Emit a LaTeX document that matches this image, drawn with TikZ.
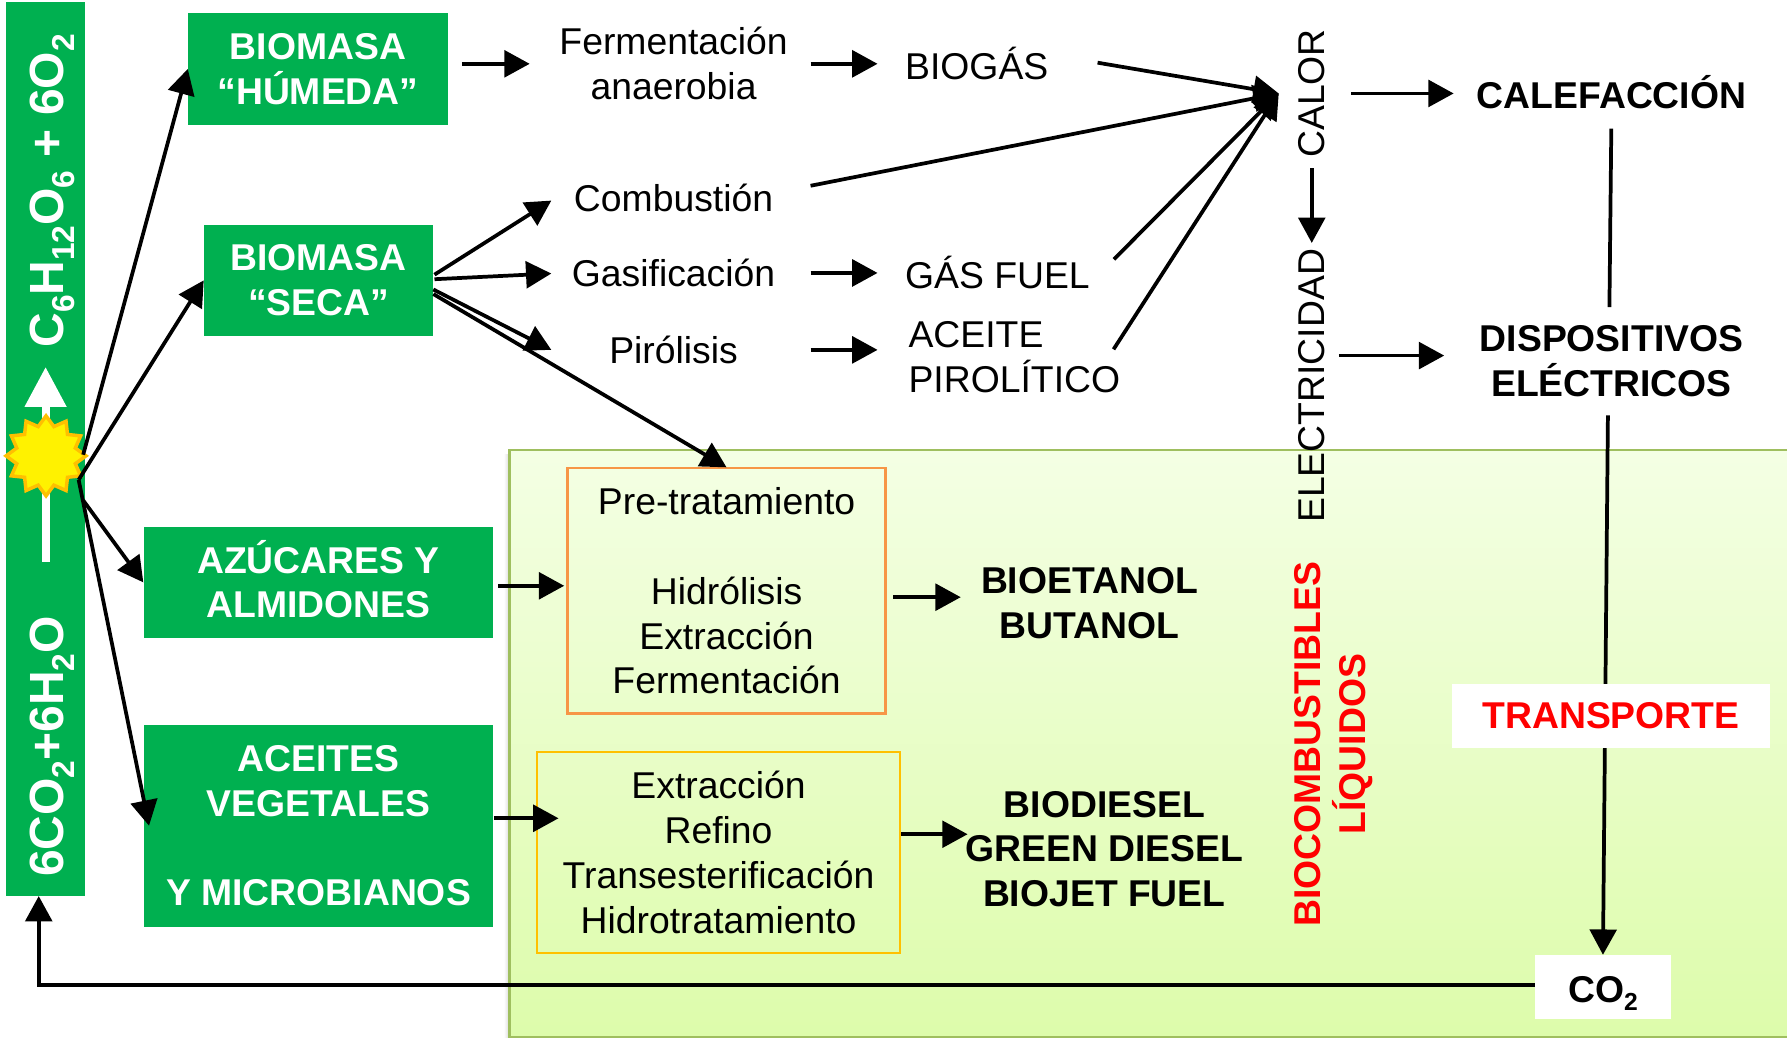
\documentclass[tikz,border=0pt]{standalone}
\usepackage{fontspec}
\setmainfont{Liberation Sans}
\usetikzlibrary{arrows.meta,shapes.geometric,calc}
\definecolor{gr}{HTML}{00B050}
\definecolor{paneltop}{HTML}{F4FFE4}
\definecolor{panelbot}{HTML}{DDFCAB}
\definecolor{panelline}{HTML}{9FBF5F}
\definecolor{orangeline}{HTML}{F79646}
\definecolor{goldline}{HTML}{FFC000}
\newcommand\pxu{0.855pt}
\newcommand\sbs[1]{\raisebox{-0.22em}{\scalebox{0.66}{#1}}}
\newcommand\bigfont{\fontsize{28}{33.6}\selectfont}
\tikzset{
  base/.style={font=\bigfont,align=center,inner sep=0pt},
  gbox/.style 2 args={base,fill=gr,text=white,font=\bigfont\bfseries,minimum width=#1*\pxu,minimum height=#2*\pxu},
  wbox/.style 2 args={base,fill=white,font=\bigfont\bfseries,minimum width=#1*\pxu,minimum height=#2*\pxu},
  obox/.style n args={3}{base,draw=#3,line width=1.6pt,minimum width=#1*\pxu,minimum height=#2*\pxu},
  stepbox/.style={base,minimum width=240*\pxu},
  outbox/.style={base,inner xsep=24*\pxu,align=left},
  prod/.style={base,font=\bigfont\bfseries,inner xsep=20*\pxu},
  vert/.style={base,rotate=90},
  arr/.style={line width=2.8pt,-{Triangle[length=19pt,width=20pt]}},
  ln/.style={line width=2.8pt},
}
\begin{document}
\begin{tikzpicture}[x=0.855pt,y=-0.855pt]
\useasboundingbox (0,0) rectangle (1568,911);
% background panel
\fill[left color=white,right color=black!16] (442,399) rectangle (447,910);
\fill[top color=paneltop,bottom color=panelbot] (447,395) rectangle (1568,910);
\draw[panelline,line width=1.6pt] (1568,395) -- (447,395) -- (447,910) -- (1568,910);
% left bar
\node[base,fill=gr,minimum width=70*\pxu,minimum height=784*\pxu] (bar) at (40,394) {};
\node[base,rotate=90,text=white,font=\fontsize{36}{42}\selectfont\bfseries,anchor=center] (top) at (46,167.5) {C\sbs{6}H\sbs{12}O\sbs{6} + 6O\sbs{2}};
\node[base,rotate=90,text=white,font=\fontsize{36}{42}\selectfont\bfseries,anchor=center] (bot) at (46,655) {6CO\sbs{2}+6H\sbs{2}O};
\coordinate (wstart) at (40,493);
\coordinate (wend) at (40,322);
\draw[white,line width=6pt,-{Triangle[length=30pt,width=30pt]}] (wstart) -- (wend);
\node[star,star points=12,star point ratio=1.32,fill=yellow,draw=goldline,line width=2.6pt,minimum size=60pt,inner sep=0pt] (sun) at (40.4,400) {};
\coordinate (s1) at (73,399);
\coordinate (s2) at (69,421);
\coordinate (s3) at (73,439);
% green boxes
\node[gbox={228}{98}] (hum) at (279,60.5) {BIOMASA\\“HÚMEDA”};
\node[gbox={201}{98}] (seca) at (279.5,246) {BIOMASA\\“SECA”};
\node[gbox={307}{98}] (azu) at (279.5,511) {AZÚCARES Y\\ALMIDONES\rule[-5pt]{0pt}{0pt}};
\node[gbox={307}{177}] (ace) at (279.5,724.5) {ACEITES\\VEGETALES\\[33.6pt]Y MICROBIANOS};
% process steps
\node[stepbox] (fer) at (591,56) {Fermentación\\anaerobia};
\node[stepbox] (com) at (591,174) {Combustión};
\node[stepbox] (gas) at (591,239.5) {Gasificación};
\node[stepbox] (pir) at (591,307) {Pirólisis};
% outputs
\node[outbox,anchor=west] (bio) at (770,56) {BIOGÁS};
\node[outbox,anchor=west] (gfu) at (770,239.5) {GÁS FUEL};
\node[outbox,anchor=west] (apr) at (773,313.5) {ACEITE\\PIROLÍTICO};
\coordinate (hub) at (1122,82);
\node[vert] (cal) at (1151,82) {CALOR};
\node[vert] (ele) at (1151,338.5) {ELECTRICIDAD};
\node[prod] (cfc) at (1414,81) {CALEFACCIÓN};
\node[prod] (dis) at (1414,317) {DISPOSITIVOS\\ELÉCTRICOS};
% liquid pathways
\node[obox={279}{215}{orangeline}] (pre) at (637.5,518.5) {Pre-tratamiento\\[33.6pt]Hidrólisis\\Extracción\\Fermentación};
\node[obox={319}{176}{goldline}] (ext) at (630.5,748) {Extracción\\Refino\\Transesterificación\\Hidrotratamiento};
\node[prod] (eta) at (956,529) {BIOETANOL\\BUTANOL};
\node[prod] (die) at (969,745) {BIODIESEL\\GREEN DIESEL\\BIOJET FUEL};
\node[base,rotate=90,text=red,font=\bigfont\bfseries] (liq) at (1170.5,653) {BIOCOMBUSTIBLES\\LÍQUIDOS};
\node[wbox={119}{56}] (co2) at (1406.5,866) {\rule{0pt}{1.03em}CO\sbs{2}};
% connectors from the sun
\draw[arr] (s1) -- (hum.west);
\draw[arr] (s2) -- (seca.west);
\draw[arr] (s3) -- (azu.west);
\draw[arr] (s2) -- ($(ace.west)+(5,0)$);
% top row
\draw[arr,shorten <=12*\pxu,shorten >=6*\pxu] (hum.east |- fer.west) -- (fer.west);
\draw[arr] (fer.east) -- (bio.west);
\draw[arr] ($(bio.east)+(19,-1)$) -- (hub);
\draw[arr] ($(com.east)+(0,-11)$) -- (hub);
\draw[arr] ($(gfu.east)+(-3,-12)$) -- (hub);
\draw[arr] ($(apr.east)+(-30,-7)$) -- (hub);
% from biomasa seca
\draw[arr] ($(seca.east)+(1,-5)$) -- ($(com.west)+(13,2)$);
\draw[arr] ($(seca.east)+(1,-1)$) -- ($(gas.west)+(13,0.5)$);
\draw[arr] ($(seca.east)+(0,8)$) -- ($(pir.west)+(13,0)$);
\draw[arr] ($(seca.east)+(0,12)$) -- (pre.north);
\draw[arr] (gas.east) -- (gas.east -| bio.west);
\draw[arr] (pir.east) -- (pir.east -| bio.west);
% right column
\draw[arr,shorten <=9*\pxu,shorten >=5*\pxu] (cal.west) -- (cal.west |- ele.east);
\draw[arr,shorten <=23*\pxu] (cal.south |- hub) -- (cfc.west |- hub);
\draw[arr] ($(ele.south |- 0,312)+(12,0)$) -- ($(dis.west)+(-11,-5)$);
\draw[ln,shorten <=17*\pxu,shorten >=16*\pxu] (cfc.south) -- ($(dis.north)+(-2,0)$);
\draw[arr,shorten <=16*\pxu] ($(dis.south)+(-3,0)$) -- (co2.north);
\node[wbox={279}{56},text=red] (tra) at (1413.5,628) {TRANSPORTE};
\draw[arr] ($(co2.west)+(0,-1.5)$) -| (bar.south -| 34,0);
% liquid arrows
\draw[arr,shorten <=4*\pxu,shorten >=2*\pxu] (azu.east |- 0,514) -- (pre.west |- 0,514);
\draw[arr] (ace.east |- 0,718) -- ($(ext.west)+(20,-30)$);
\draw[arr,shorten <=6*\pxu,shorten >=0pt] (pre.east |- 0,524) -- (843,524);
\draw[arr] (ext.east |- 0,732) -- (849,732);
\end{tikzpicture}
\end{document}
